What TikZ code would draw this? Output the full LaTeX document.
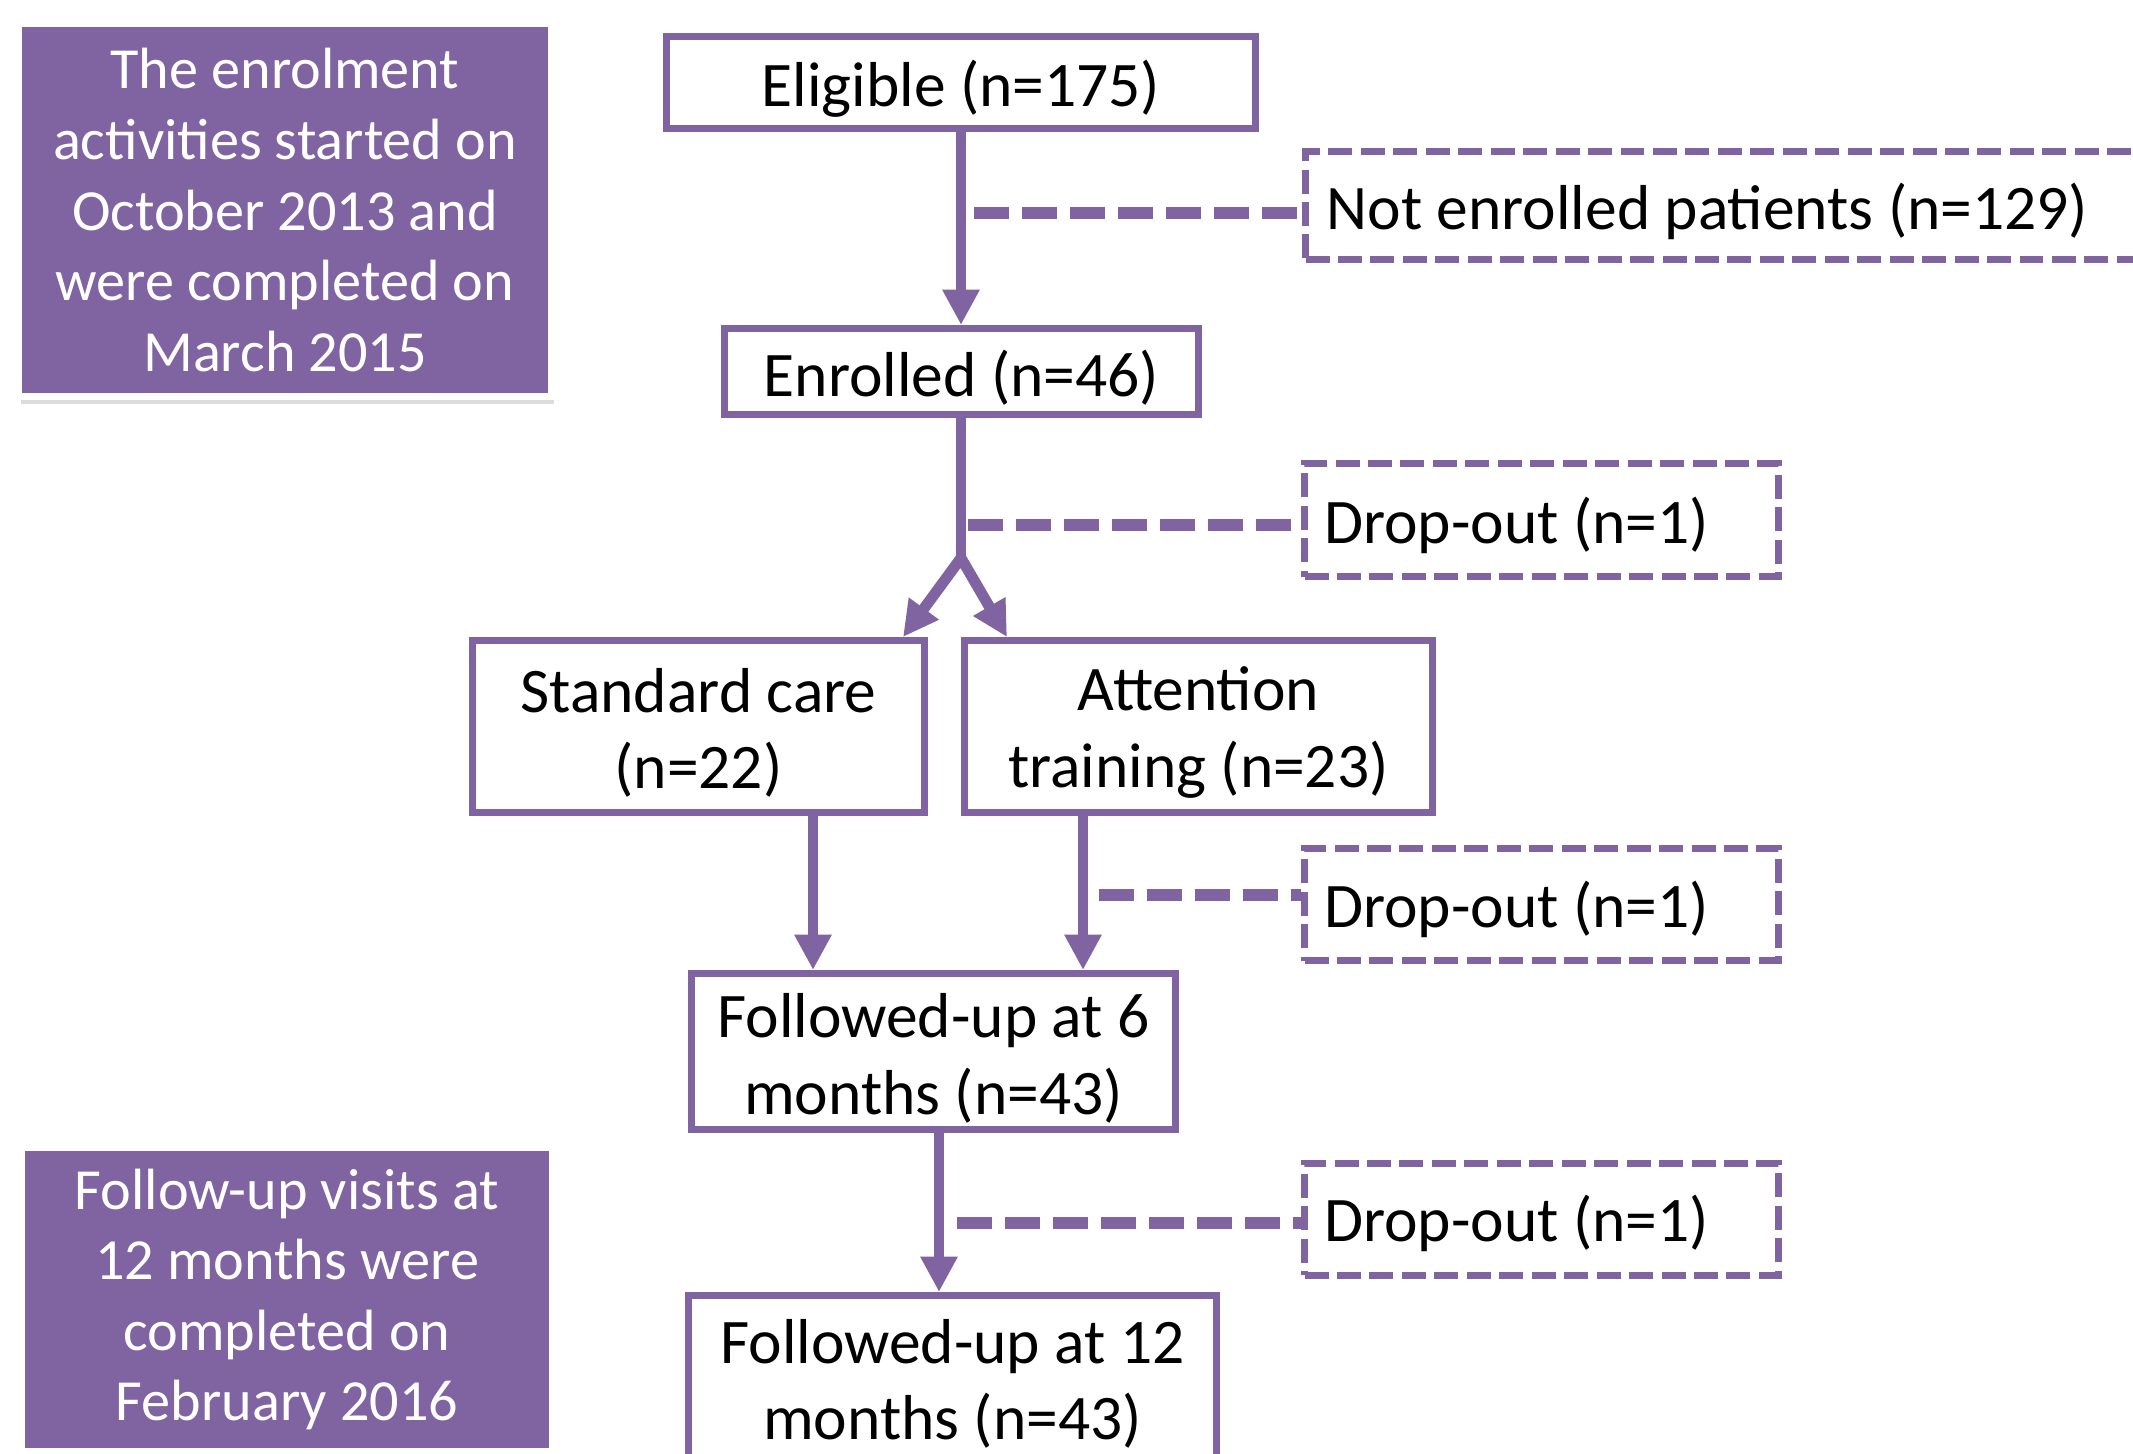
\documentclass[tikz,border=0pt]{standalone}
\usepackage{fontspec}
\setmainfont{Carlito}
\usetikzlibrary{arrows.meta,shadows}
\definecolor{purp}{RGB}{128,100,162}
\begin{document}
\begin{tikzpicture}[x=0.2835pt,y=-0.2835pt,
  box/.style={draw=purp, line width=2pt, fill=white, inner sep=0pt},
  dbox/.style={draw=purp, line width=2pt, dash pattern=on 6.8pt off 2.4pt, inner sep=0pt},
  lbl/.style={inner sep=0pt, align=center, font=\fontsize{18}{21.8}\selectfont},
  note/.style={fill=purp, draw=white, line width=2pt, text=white, align=center, inner sep=0pt,
    font=\fontsize{16.5}{20}\selectfont,
    drop shadow={opacity=0.28, shadow xshift=0.6pt, shadow yshift=-2pt}},
  tipA/.tip={Triangle[width=9.9pt,length=10pt]},
  flow/.style={draw=purp, line width=3.1pt, -tipA},
  sline/.style={draw=purp, line width=3.1pt},
  dline/.style={draw=purp, line width=3.4pt, dash pattern=on 9.9pt off 3.7pt}]
\useasboundingbox (0,0) rectangle (2133,1453);
\clip (0,0) rectangle (2133,1453);

% side notes
\node[note, minimum width={533*0.2835pt}, minimum height={373*0.2835pt}] (n1) at (285,210)
  {The enrolment\\activities started on\\October 2013 and\\were completed on\\March 2015};
\node[note, minimum width={531.5*0.2835pt}, minimum height={304*0.2835pt}] (n2) at (287,1299.5)
  {Follow-up visits at\\12 months were\\completed on\\February 2016};

% main boxes
\node[box, minimum width={589*0.2835pt}, minimum height={92*0.2835pt}] (elig) at (961,82.5) {};
\node[box, minimum width={474*0.2835pt}, minimum height={86*0.2835pt}] (enr) at (961.5,371.5) {};
\node[box, minimum width={452*0.2835pt}, minimum height={172*0.2835pt}] (std) at (698.5,726.5) {};
\node[box, minimum width={468*0.2835pt}, minimum height={172*0.2835pt}] (att) at (1198.5,726.5) {};
\node[box, minimum width={484*0.2835pt}, minimum height={156*0.2835pt}] (fu6) at (933.5,1051.5) {};
\node[box, minimum width={528*0.2835pt}, minimum height={164*0.2835pt}] (fu12) at (952.5,1377.5) {};

\node[lbl] (eligT) at ([yshift=-1.8pt]elig.center) {Eligible (n=175)};
\node[lbl] (enrT) at ([yshift=-1.8pt]enr.center) {Enrolled (n=46)};
\node[lbl] (stdT) at ([yshift=-1.8pt]std.center) {Standard care\\(n=22)};
\node[lbl] (attT) at ([yshift=-1.8pt]att.center) {Attention\\training (n=23)};
\node[lbl] (fu6T) at ([yshift=-2pt]fu6.center) {Followed-up at 6\\months (n=43)};
\node[lbl] (fu12T) at ([yshift=-1.8pt]fu12.center) {Followed-up at 12\\months (n=43)};

% dashed boxes
\node[dbox, minimum width={943*0.2835pt}, minimum height={108*0.2835pt}, anchor=west] (ne) at (1302,205.5) {};
\node[dbox, minimum width={474*0.2835pt}, minimum height={113*0.2835pt}, anchor=west] (do1) at (1301,520) {};
\node[dbox, minimum width={474*0.2835pt}, minimum height={112*0.2835pt}, anchor=west] (do2) at (1301,904.5) {};
\node[dbox, minimum width={474*0.2835pt}, minimum height={112*0.2835pt}, anchor=west] (do3) at (1301,1219) {};

\node[lbl, anchor=west] (neT) at ([xshift=6.8pt,yshift=-1.6pt]ne.west) {Not enrolled patients (n=129)};
\node[lbl, anchor=west] (do1T) at ([xshift=6.4pt,yshift=-1.4pt]do1.west) {Drop-out (n=1)};
\node[lbl, anchor=west] (do2T) at ([xshift=6.4pt,yshift=-1.4pt]do2.west) {Drop-out (n=1)};
\node[lbl, anchor=west] (do3T) at ([xshift=6.4pt,yshift=-1.2pt]do3.west) {Drop-out (n=1)};

% solid connectors
\draw[flow] (elig.south) -- (elig.south |- enr.north);
\coordinate (br) at (961,558);
\draw[sline] (enr.south -| br) -- (br);
\draw[sline, line join=miter, tipA-tipA] ([xshift={-25*0.2835pt}]std.north east) -- (br) -- ([xshift={46*0.2835pt}]att.north west);
\coordinate (s1) at ([xshift={114.5*0.2835pt}]std.south);
\draw[flow] (s1) -- (s1 |- fu6.north);
\coordinate (s2) at ([xshift={-115.5*0.2835pt}]att.south);
\draw[flow] (s2) -- (s2 |- fu6.north);
\coordinate (s3) at ([xshift={5.5*0.2835pt}]fu6.south);
\draw[flow] (s3) -- (s3 |- fu12.north);

% dashed connectors
\coordinate (d1) at (974,213);
\draw[dline] (d1) -- (d1 -| ne.west);
\coordinate (d2) at (968,525);
\draw[dline] (d2) -- (d2 -| do1.west);
\coordinate (d3) at (1099,895);
\draw[dline] (d3) -- (d3 -| do2.west);
\coordinate (d4) at (957,1223);
\draw[dline] (d4) -- (d4 -| do3.west);
\end{tikzpicture}
\end{document}
